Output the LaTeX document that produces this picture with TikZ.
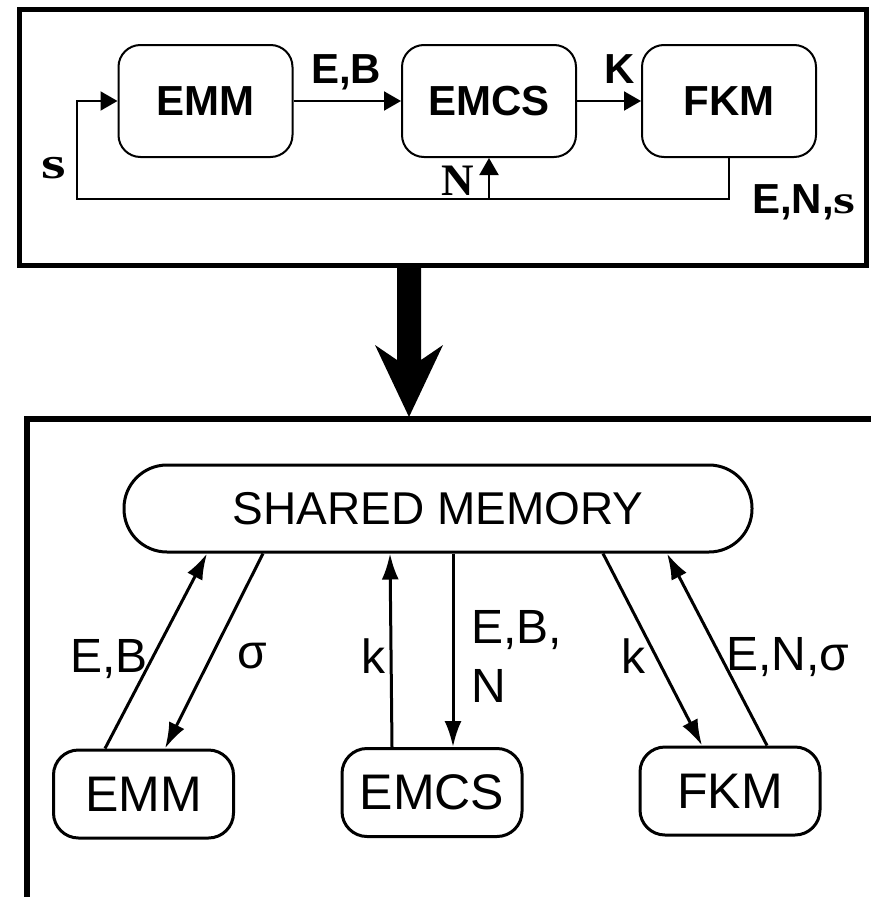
\documentclass[tikz,border=0pt]{standalone}
\usepackage{fontspec}
\usepackage{graphicx}
\setmainfont{Liberation Sans}
\newfontfamily\serifb{Liberation Serif}
\usetikzlibrary{arrows.meta,calc}
\begin{document}
\begin{tikzpicture}[x=1pt,y=-1pt,
  frame/.style={line width=5pt},
  topbox/.style={draw, line width=2pt, rounded corners=22pt, minimum width=174pt,
    minimum height=112pt, inner sep=0pt, font=\fontsize{42}{42}\selectfont\bfseries},
  botbox/.style={draw, line width=3pt, rounded corners=25pt, minimum width=180pt,
    minimum height=88pt, inner sep=0pt, font=\fontsize{50}{50}\selectfont},
  memnode/.style={draw, line width=3pt, rounded corners=43pt, minimum width=628pt,
    minimum height=87pt, inner sep=0pt, font=\fontsize{46}{46}\selectfont},
  toplab/.style={anchor=base west, inner sep=0pt, font=\fontsize{42}{42}\selectfont\bfseries},
  serlab/.style={anchor=base west, inner sep=0pt, font=\serifb\fontsize{45}{45}\selectfont\bfseries},
  botlab/.style={anchor=base west, inner sep=0pt, font=\fontsize{48}{48}\selectfont},
  tarr/.style={line width=2pt, -{Triangle[length=17pt,width=19pt]}},
  barr/.style={line width=3pt, -{Latex[length=26pt,width=17pt]}}
]
\useasboundingbox (0,0) rectangle (871,897);
\fill[white] (0,0) rectangle (871,897);

% ---------- top frame ----------
\draw[frame] (19.5,9.5) rectangle (866,265);

\node[topbox] (emm)  at (205.5,101) {EMM};
\node[topbox] (emcs) at (489,101)   {EMCS};
\node[topbox] (fkm)  at (729,101)   {FKM};

\coordinate (fbl) at (77,199);
\draw[tarr] (emm) -- (emcs);
\draw[tarr] (emcs) -- (fkm);
\draw[tarr] (fkm.south) |- (fbl) |- (emm.west);
\draw[tarr] (emcs.south |- fbl) -- (emcs.south);

\node[toplab] (lEB) at (311,83) {E,B};
\node[toplab] (lK)  at (604,83) {K};
\node[serlab] (ls)  at (41,178) {\scalebox{1.4}[1]{s}};
\node[serlab] (lN)  at (441,195) {N};
\node[toplab] (lENs) at (752,213) {E,N,{\serifb\fontsize{40}{40}\selectfont\bfseries\scalebox{1.4}[1]{s}}};

% ---------- big arrow ----------
\fill[black] (397,263) -- (421,263) -- (421,360) -- (443,345) -- (409,417)
  -- (375,345) -- (397,360) -- cycle;

% ---------- bottom frame ----------
\draw[frame, line width=6pt] (27,897) -- (27,419) -- (871,419);

\node[memnode] (mem) at (438,508.5) {SHARED MEMORY};
\node[botbox] (bemm)  at (143.5,794) {EMM};
\node[botbox] (bemcs) at (432,792.5) {EMCS};
\node[botbox] (bfkm)  at (730,791)   {FKM};

\draw[barr] ([xshift=-38.5pt]bemm.north) -- ([xshift=-231pt]mem.south);
\draw[barr] ([xshift=-175pt]mem.south) -- ([xshift=21.5pt]bemm.north);
\draw[barr] ([xshift=-40pt]bemcs.north) -- ([xshift=-48pt]mem.south);
\draw[barr] ([xshift=15pt]mem.south) -- ([xshift=21pt]bemcs.north);
\draw[barr] ([xshift=165pt]mem.south) -- ([xshift=-28pt]bfkm.north);
\draw[barr] ([xshift=37pt]bfkm.north) -- ([xshift=229pt]mem.south);

\node[botlab] (bl1) at (70,672) {E,B};
\node[botlab] (bl2) at (237,668) {σ};
\node[botlab] (bl3) at (361,673) {k};
\node[botlab] (bl4) at (471,643) {E,B,};
\node[botlab] (bl5) at (471,702) {N};
\node[botlab] (bl6) at (621,673) {k};
\node[botlab] (bl7) at (726,670) {E,N,σ};
\end{tikzpicture}
\end{document}
